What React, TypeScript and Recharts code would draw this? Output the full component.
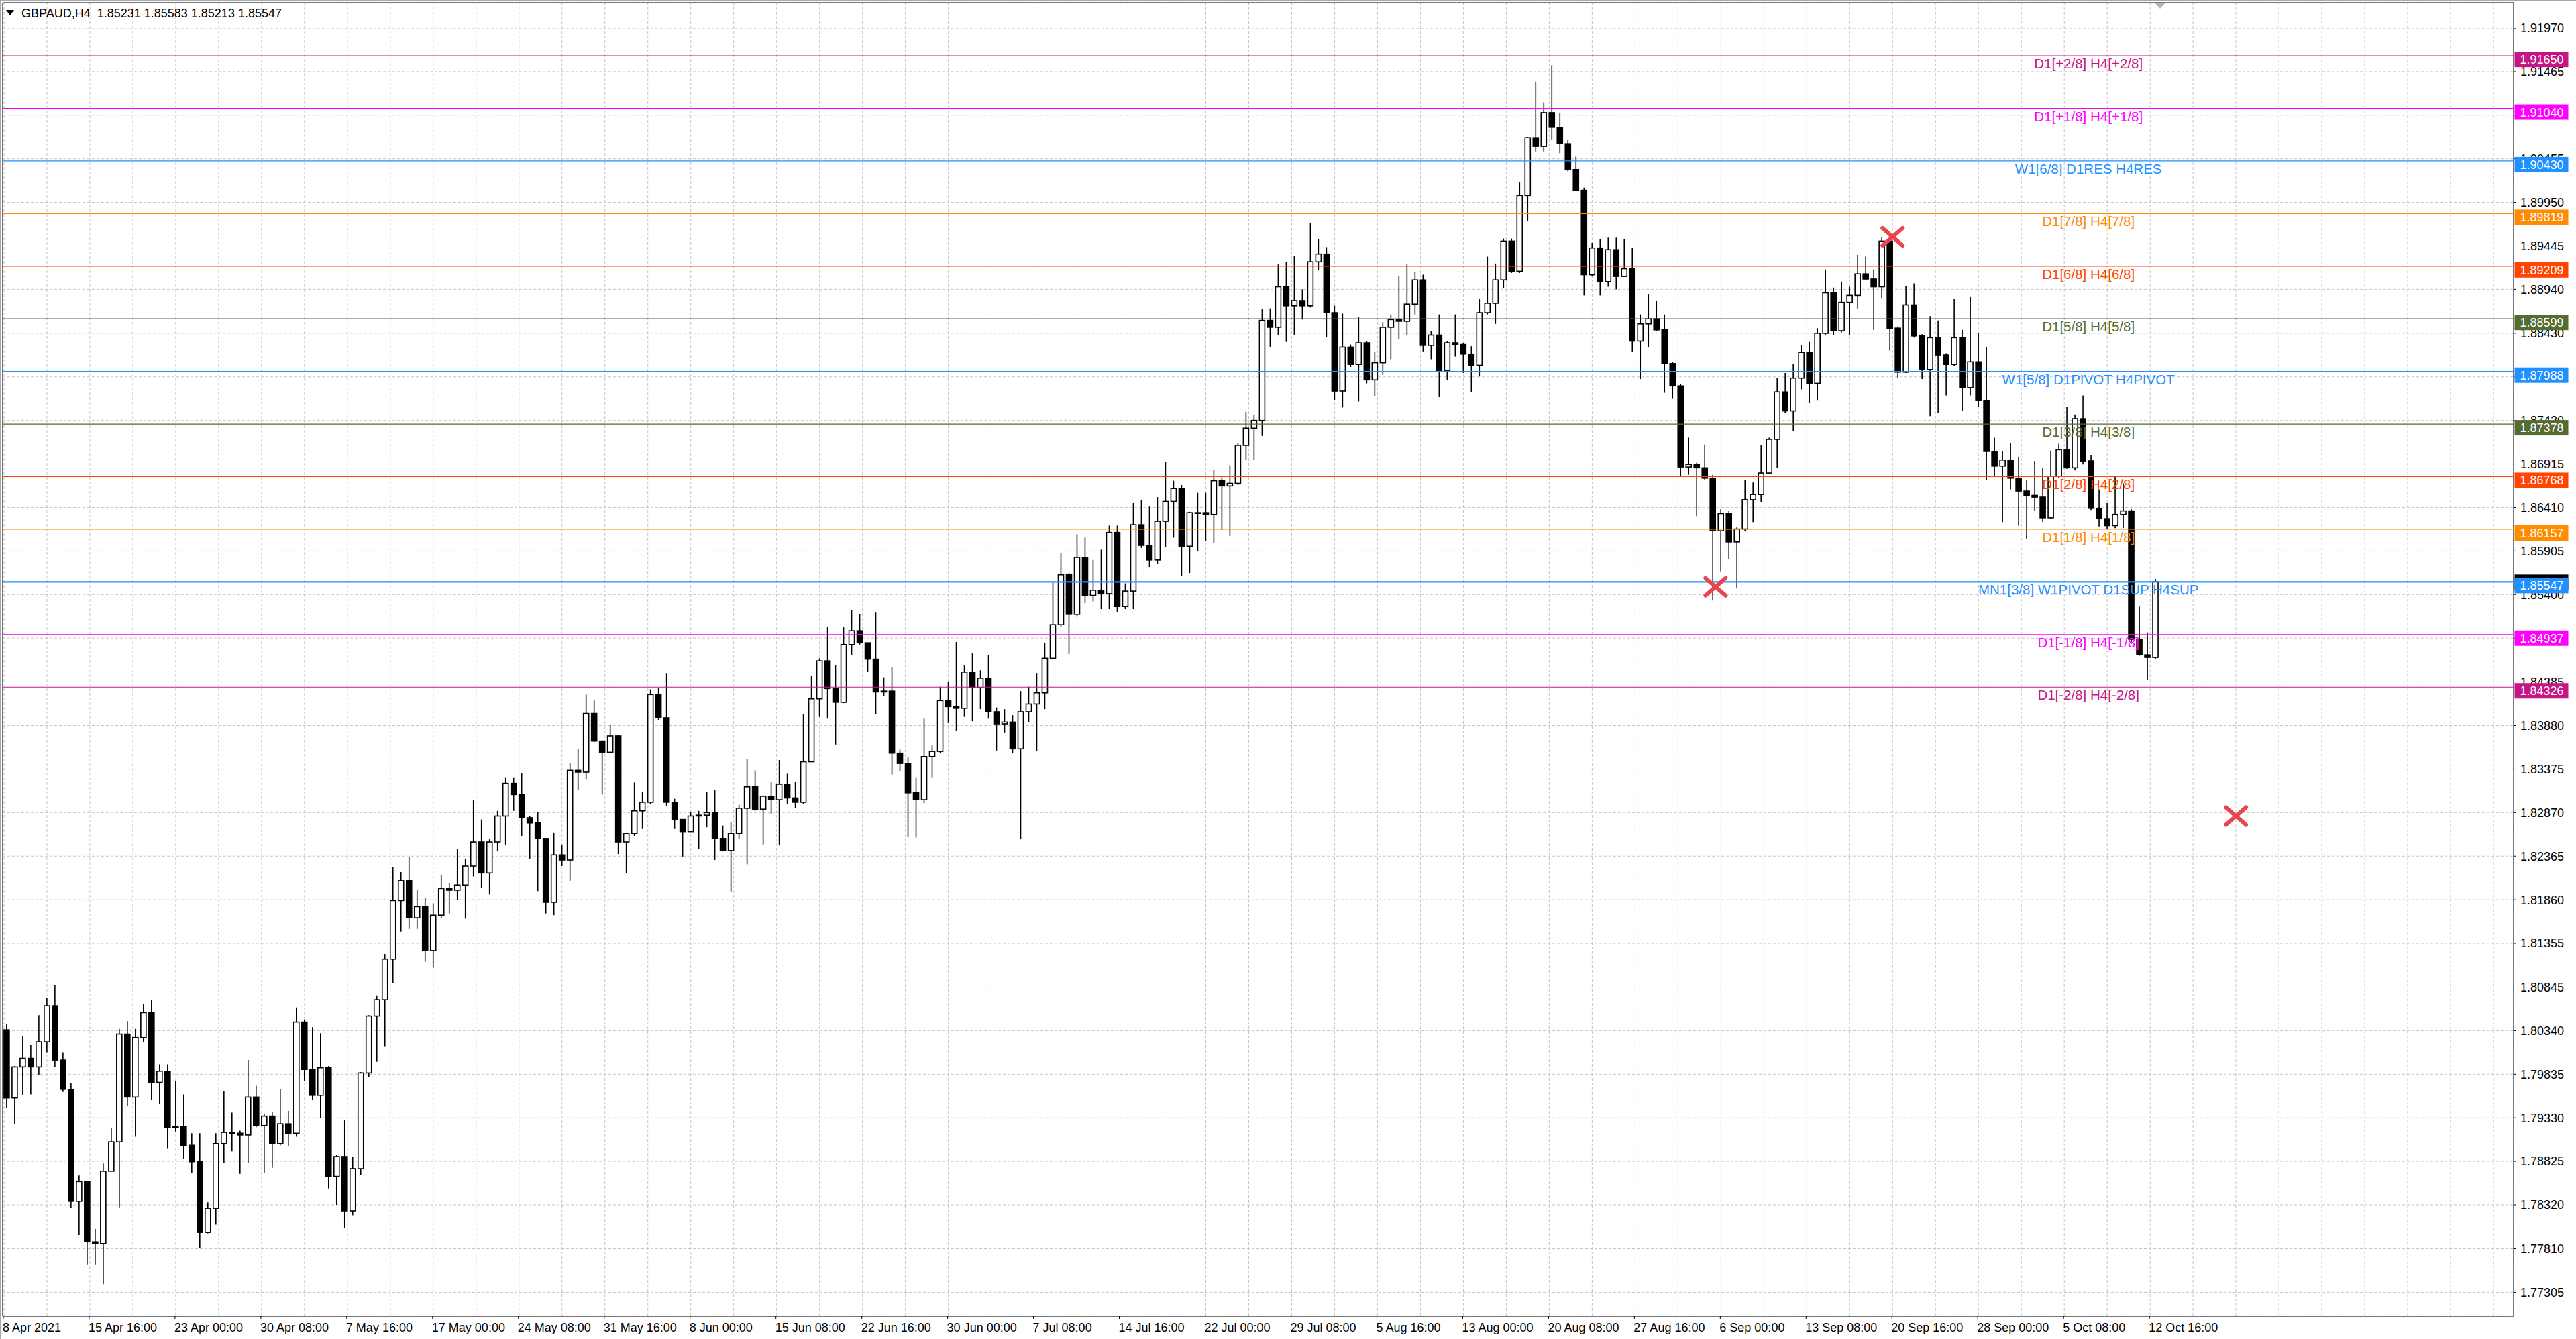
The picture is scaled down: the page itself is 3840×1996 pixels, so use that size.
import React from "react";
import {
  ComposedChart,
  Bar,
  XAxis,
  YAxis,
  CartesianGrid,
  ReferenceLine,
  ReferenceArea,
  ReferenceDot,
} from "recharts";

const FONT = '"Liberation Sans", Arial, sans-serif';

// GBPAUD H4, one candle per 3 H4 bars
const firstOpen = 1.8035;

const closes = [
  1.7956, 1.7992, 1.8002, 1.7992, 1.8021, 1.8063, 1.8000, 1.7966, 1.7836, 1.7859,
  1.7789, 1.7787, 1.7871, 1.7905, 1.8030, 1.7957, 1.8026, 1.8055, 1.7974, 1.7987,
  1.7922, 1.7923, 1.7901, 1.7882, 1.7800, 1.7828, 1.7903, 1.7916, 1.7915, 1.7913,
  1.7957, 1.7924, 1.7935, 1.7903, 1.7926, 1.7915, 1.8044, 1.7989, 1.7959, 1.7991,
  1.7865, 1.7888, 1.7825, 1.7874, 1.7985, 1.8051, 1.8070, 1.8117, 1.8185, 1.8208,
  1.8165, 1.8178, 1.8127, 1.8168, 1.8199, 1.8197, 1.8203, 1.8225, 1.8253, 1.8217,
  1.8253, 1.8283, 1.8321, 1.8308, 1.8281, 1.8275, 1.8257, 1.8183, 1.8238, 1.8232,
  1.8336, 1.8334, 1.8402, 1.8370, 1.8357, 1.8376, 1.8253, 1.8263, 1.8289, 1.8299,
  1.8424, 1.8397, 1.8299, 1.8279, 1.8265, 1.8283, 1.8284, 1.8287, 1.8257, 1.8243,
  1.8263, 1.8292, 1.8317, 1.8291, 1.8306, 1.8302, 1.8320, 1.8304, 1.8299, 1.8346,
  1.8419, 1.8463, 1.8431, 1.8415, 1.8482, 1.8498, 1.8484, 1.8465, 1.8427, 1.8428,
  1.8356, 1.8344, 1.8310, 1.8302, 1.8352, 1.8358, 1.8417, 1.8410, 1.8408, 1.8450,
  1.8432, 1.8443, 1.8404, 1.8390, 1.8392, 1.8361, 1.8404, 1.8413, 1.8426, 1.8466,
  1.8505, 1.8563, 1.8517, 1.8583, 1.8539, 1.8545, 1.8541, 1.8612, 1.8526, 1.8544,
  1.8621, 1.8597, 1.8580, 1.8625, 1.8648, 1.8663, 1.8596, 1.8635, 1.8635, 1.8633,
  1.8672, 1.8666, 1.8669, 1.8713, 1.8733, 1.8742, 1.8858, 1.8850, 1.8897, 1.8875,
  1.8881, 1.8875, 1.8926, 1.8935, 1.8867, 1.8776, 1.8827, 1.8807, 1.8832, 1.8789,
  1.8809, 1.8850, 1.8859, 1.8857, 1.8877, 1.8905, 1.8829, 1.8841, 1.8800, 1.8832,
  1.8830, 1.8819, 1.8806, 1.8867, 1.8878, 1.8905, 1.8950, 1.8915, 1.9003, 1.9070,
  1.9060, 1.9099, 1.9082, 1.9063, 1.9033, 1.9009, 1.8911, 1.8942, 1.8903, 1.8940,
  1.8909, 1.8918, 1.8834, 1.8854, 1.8860, 1.8847, 1.8808, 1.8782, 1.8688, 1.8691,
  1.8687, 1.8675, 1.8614, 1.8634, 1.8601, 1.8616, 1.8650, 1.8656, 1.8681, 1.8720,
  1.8775, 1.8753, 1.8791, 1.8821, 1.8785, 1.8843, 1.8890, 1.8846, 1.8879, 1.8887,
  1.8912, 1.8906, 1.8897, 1.8950, 1.8849, 1.8798, 1.8876, 1.8840, 1.8801, 1.8838,
  1.8818, 1.8807, 1.8838, 1.8780, 1.8810, 1.8765, 1.8706, 1.8689, 1.8696, 1.8675,
  1.8660, 1.8655, 1.8653, 1.8629, 1.8677, 1.8708, 1.8687, 1.8744, 1.8695, 1.8640,
  1.8628, 1.8620, 1.8633, 1.8637, 1.8488, 1.8470, 1.8467, 1.8555,
];

const highs = [
  1.8042, 1.7993, 1.8028, 1.8018, 1.8052, 1.8072, 1.8087, 1.8009, 1.7973, 1.7866,
  1.7859, 1.7804, 1.7880, 1.7921, 1.8036, 1.8045, 1.8036, 1.8065, 1.8070, 1.7995,
  1.7995, 1.7976, 1.7960, 1.7915, 1.7915, 1.7835, 1.7915, 1.7964, 1.7939, 1.7918,
  1.8000, 1.7970, 1.7938, 1.7940, 1.7966, 1.7941, 1.8061, 1.8047, 1.8038, 1.8031,
  1.7993, 1.7890, 1.7930, 1.7888, 1.7986, 1.8052, 1.8075, 1.8123, 1.8224, 1.8218,
  1.8236, 1.8197, 1.8188, 1.8182, 1.8215, 1.8205, 1.8245, 1.8233, 1.8302, 1.8279,
  1.8256, 1.8289, 1.8328, 1.8328, 1.8333, 1.8283, 1.8288, 1.8257, 1.8264, 1.8250,
  1.8344, 1.8361, 1.8424, 1.8417, 1.8371, 1.8389, 1.8377, 1.8264, 1.8322, 1.8311,
  1.8430, 1.8432, 1.8449, 1.8303, 1.8279, 1.8288, 1.8289, 1.8311, 1.8313, 1.8272,
  1.8276, 1.8296, 1.8349, 1.8336, 1.8307, 1.8323, 1.8348, 1.8332, 1.8323, 1.8401,
  1.8446, 1.8466, 1.8502, 1.8458, 1.8502, 1.8522, 1.8517, 1.8484, 1.8519, 1.8444,
  1.8456, 1.8360, 1.8351, 1.8328, 1.8396, 1.8365, 1.8433, 1.8439, 1.8485, 1.8458,
  1.8472, 1.8452, 1.8470, 1.8409, 1.8407, 1.8400, 1.8428, 1.8433, 1.8449, 1.8484,
  1.8554, 1.8588, 1.8565, 1.8610, 1.8606, 1.8580, 1.8592, 1.8620, 1.8620, 1.8553,
  1.8646, 1.8650, 1.8642, 1.8653, 1.8694, 1.8672, 1.8667, 1.8636, 1.8658, 1.8658,
  1.8685, 1.8676, 1.8690, 1.8716, 1.8752, 1.8749, 1.8871, 1.8872, 1.8923, 1.8926,
  1.8933, 1.8894, 1.8971, 1.8952, 1.8943, 1.8875, 1.8866, 1.8830, 1.8862, 1.8834,
  1.8821, 1.8856, 1.8865, 1.8910, 1.8923, 1.8914, 1.8911, 1.8846, 1.8865, 1.8834,
  1.8865, 1.8832, 1.8828, 1.8883, 1.8932, 1.8924, 1.8953, 1.8953, 1.9018, 1.9071,
  1.9135, 1.9111, 1.9154, 1.9099, 1.9067, 1.9048, 1.9012, 1.8948, 1.8952, 1.8954,
  1.8954, 1.8952, 1.8942, 1.8865, 1.8888, 1.8881, 1.8865, 1.8810, 1.8784, 1.8722,
  1.8693, 1.8714, 1.8679, 1.8639, 1.8637, 1.8618, 1.8673, 1.8670, 1.8713, 1.8722,
  1.8791, 1.8797, 1.8808, 1.8829, 1.8833, 1.8849, 1.8917, 1.8896, 1.8903, 1.8897,
  1.8934, 1.8932, 1.8917, 1.8955, 1.8961, 1.8851, 1.8898, 1.8901, 1.8842, 1.8863,
  1.8858, 1.8820, 1.8883, 1.8847, 1.8886, 1.8843, 1.8827, 1.8722, 1.8706, 1.8716,
  1.8700, 1.8673, 1.8695, 1.8687, 1.8707, 1.8715, 1.8758, 1.8749, 1.8771, 1.8702,
  1.8662, 1.8646, 1.8677, 1.8669, 1.8639, 1.8526, 1.8496, 1.8558,
];

const lows = [
  1.7944, 1.7926, 1.7959, 1.7960, 1.7983, 1.8009, 1.7992, 1.7963, 1.7828, 1.7797,
  1.7763, 1.7763, 1.7740, 1.7871, 1.7829, 1.7947, 1.7911, 1.8021, 1.7954, 1.7949,
  1.7897, 1.7917, 1.7885, 1.7869, 1.7782, 1.7799, 1.7809, 1.7881, 1.7894, 1.7868,
  1.7881, 1.7922, 1.7869, 1.7875, 1.7901, 1.7900, 1.7911, 1.7976, 1.7954, 1.7933,
  1.7851, 1.7832, 1.7805, 1.7820, 1.7867, 1.7980, 1.7998, 1.8016, 1.8089, 1.8149,
  1.8152, 1.8152, 1.8114, 1.8107, 1.8165, 1.8170, 1.8186, 1.8164, 1.8213, 1.8200,
  1.8192, 1.8242, 1.8250, 1.8289, 1.8260, 1.8233, 1.8196, 1.8170, 1.8168, 1.8225,
  1.8208, 1.8313, 1.8326, 1.8369, 1.8308, 1.8357, 1.8239, 1.8217, 1.8260, 1.8268,
  1.8297, 1.8394, 1.8295, 1.8268, 1.8236, 1.8265, 1.8245, 1.8270, 1.8232, 1.8242,
  1.8195, 1.8257, 1.8227, 1.8289, 1.8250, 1.8285, 1.8249, 1.8297, 1.8292, 1.8297,
  1.8346, 1.8398, 1.8396, 1.8366, 1.8414, 1.8470, 1.8482, 1.8450, 1.8401, 1.8422,
  1.8331, 1.8335, 1.8259, 1.8258, 1.8298, 1.8328, 1.8356, 1.8391, 1.8382, 1.8398,
  1.8393, 1.8407, 1.8396, 1.8359, 1.8380, 1.8356, 1.8256, 1.8392, 1.8358, 1.8407,
  1.8465, 1.8503, 1.8471, 1.8515, 1.8530, 1.8532, 1.8523, 1.8523, 1.8520, 1.8523,
  1.8523, 1.8594, 1.8572, 1.8576, 1.8595, 1.8606, 1.8562, 1.8565, 1.8590, 1.8602,
  1.8600, 1.8615, 1.8608, 1.8667, 1.8696, 1.8696, 1.8724, 1.8827, 1.8841, 1.8833,
  1.8841, 1.8859, 1.8873, 1.8916, 1.8839, 1.8765, 1.8757, 1.8804, 1.8764, 1.8785,
  1.8770, 1.8795, 1.8813, 1.8836, 1.8841, 1.8865, 1.8822, 1.8813, 1.8769, 1.8789,
  1.8816, 1.8797, 1.8775, 1.8793, 1.8865, 1.8854, 1.8895, 1.8913, 1.8913, 1.8973,
  1.9054, 1.9054, 1.9068, 1.9052, 1.9031, 1.9008, 1.8887, 1.8909, 1.8887, 1.8897,
  1.8894, 1.8909, 1.8822, 1.8790, 1.8827, 1.8846, 1.8774, 1.8767, 1.8677, 1.8679,
  1.8631, 1.8673, 1.8533, 1.8567, 1.8581, 1.8547, 1.8614, 1.8624, 1.8647, 1.8680,
  1.8687, 1.8751, 1.8730, 1.8778, 1.8762, 1.8765, 1.8841, 1.8841, 1.8844, 1.8841,
  1.8872, 1.8905, 1.8847, 1.8884, 1.8823, 1.8791, 1.8797, 1.8838, 1.8790, 1.8747,
  1.8751, 1.8771, 1.8805, 1.8753, 1.8771, 1.8758, 1.8673, 1.8678, 1.8624, 1.8662,
  1.8620, 1.8604, 1.8637, 1.8624, 1.8628, 1.8675, 1.8686, 1.8684, 1.8691, 1.8638,
  1.8619, 1.8616, 1.8617, 1.8617, 1.8483, 1.8469, 1.8441, 1.8465,
];

const dateLabels = [
  "8 Apr 2021", "15 Apr 16:00", "23 Apr 00:00", "30 Apr 08:00", "7 May 16:00",
  "17 May 00:00", "24 May 08:00", "31 May 16:00", "8 Jun 00:00", "15 Jun 08:00",
  "22 Jun 16:00", "30 Jun 00:00", "7 Jul 08:00", "14 Jul 16:00", "22 Jul 00:00",
  "29 Jul 08:00", "5 Aug 16:00", "13 Aug 00:00", "20 Aug 08:00", "27 Aug 16:00",
  "6 Sep 00:00", "13 Sep 08:00", "20 Sep 16:00", "28 Sep 00:00", "5 Oct 08:00",
  "12 Oct 16:00",
];

const priceTicks = [
  1.9197, 1.91465, 1.9096, 1.90455, 1.8995, 1.89445, 1.8894, 1.8843, 1.87925, 1.8742,
  1.86915, 1.8641, 1.85905, 1.854, 1.84895, 1.84385, 1.8388, 1.83375, 1.8287, 1.82365,
  1.8186, 1.81355, 1.80845, 1.8034, 1.79835, 1.7933, 1.78825, 1.7832, 1.7781, 1.77305,
];

const levelPrices = [
  1.9165, 1.9104, 1.9043, 1.89819, 1.89209, 1.88599, 1.87988, 1.87378, 1.86768,
  1.86157, 1.85547, 1.84937, 1.84326,
];
const levelNames = [
  "D1[+2/8] H4[+2/8]", "D1[+1/8] H4[+1/8]", "W1[6/8] D1RES H4RES", "D1[7/8] H4[7/8]",
  "D1[6/8] H4[6/8]", "D1[5/8] H4[5/8]", "W1[5/8] D1PIVOT H4PIVOT", "D1[3/8] H4[3/8]",
  "D1[2/8] H4[2/8]", "D1[1/8] H4[1/8]", "MN1[3/8] W1PIVOT D1SUP H4SUP",
  "D1[-1/8] H4[-1/8]", "D1[-2/8] H4[-2/8]",
];
const levelColors = [
  "#C71585", "#FF00FF", "#1E90FF", "#FF8C00", "#FF4500", "#556B2F", "#1E90FF",
  "#556B2F", "#FF4500", "#FF8C00", "#1E90FF", "#FF00FF", "#C71585",
];

const markerSlots = [638, 704, 832];
const markerPrices = [1.8549, 1.8955, 1.8283];

const BID = 1.85547;
const BARS_PER_CANDLE = 3;
const SLOTS = 936; // H4 bars across the screen, incl. the empty shift on the right
const LABEL_SLOT = 777;
const Y_MIN = 1.77028;
const Y_MAX = 1.92266;
const AXIS_W = 92;

const xTicks = Array.from({ length: 59 }, (_, k) => k * 16);

const table: any[] = Array.from({ length: SLOTS }, (_, slot) => ({ slot }));
closes.forEach((close, i) => {
  const open = i === 0 ? firstOpen : closes[i - 1];
  const slot = i * BARS_PER_CANDLE + 1;
  table[slot] = {
    slot,
    open,
    close,
    wick: [lows[i], highs[i]],
    body: [Math.min(open, close), Math.max(open, close)],
  };
});

const Wick = (p: any) => {
  if (!p.payload || p.payload.open == null || !Number.isFinite(p.y)) return <g />;
  const cx = p.x + p.width / 2;
  return <line x1={cx} x2={cx} y1={p.y} y2={p.y + p.height} stroke="#000" strokeWidth={1.6} />;
};

const Body = (p: any) => {
  if (!p.payload || p.payload.open == null || !Number.isFinite(p.y)) return <g />;
  const cx = p.x + p.width / 2;
  const top = Math.min(p.y, p.y + p.height);
  const h = Math.max(Math.abs(p.height), 1);
  const up = p.payload.close >= p.payload.open;
  return (
    <rect x={cx - 4} y={top} width={8} height={h} fill={up ? "#fff" : "#000"} stroke="#000" strokeWidth={1.6} />
  );
};

const DateTick = (p: any) => {
  const i = p.payload.value / 32;
  if (!Number.isInteger(i) || i >= dateLabels.length) return <g />;
  return (
    <g>
      <line x1={p.x - 1} x2={p.x - 1} y1={p.y} y2={p.y + 4} stroke="#000" />
      <text x={p.x - 2} y={p.y + 23} fontSize={18} fontFamily={FONT} fill="#000">
        {dateLabels[i]}
      </text>
    </g>
  );
};

// coloured price boxes on the right scale; drawn by a second thin axis so they sit over the tick labels
const PriceTag = (p: any) => {
  const price = p.payload.value;
  const i = levelPrices.indexOf(price);
  if (i < 0) return <g />;
  const x = p.x - AXIS_W + 1.5;
  const y = p.y;
  return (
    <g>
      {price === BID && <rect x={x} y={y - 11} width={80} height={23} fill="#000" />}
      <rect x={x} y={y - 6} width={80} height={23} fill={levelColors[i]} />
      <text x={x + 8} y={y + 12} fill="#fff" fontSize={18} fontFamily={FONT}>
        {price.toFixed(5)}
      </text>
    </g>
  );
};

const Cross = (p: any) => (
  <g stroke="#E8454F" strokeWidth={6} strokeLinecap="round">
    <line x1={p.cx - 15} y1={p.cy - 13} x2={p.cx + 15} y2={p.cy + 13} />
    <line x1={p.cx - 15} y1={p.cy + 13} x2={p.cx + 15} y2={p.cy - 13} />
  </g>
);

export default function App() {
  return (
    <div style={{ position: "fixed", left: 0, top: 0, width: 3840, height: 1996, background: "#fff", overflow: "hidden" }}>
      <ComposedChart width={3840} height={1996} data={table} margin={{ top: 4, right: 0, left: 4, bottom: 0 }}>
        <CartesianGrid stroke="#c4c4c4" strokeDasharray="4 3" />
        <XAxis
          dataKey="slot"
          ticks={xTicks}
          interval={0}
          height={34}
          axisLine={false}
          tickLine={false}
          tickSize={0}
          tickMargin={0}
          tick={<DateTick />}
        />
        <XAxis xAxisId="body" dataKey="slot" hide />
        <YAxis
          orientation="right"
          type="number"
          domain={[Y_MIN, Y_MAX]}
          allowDataOverflow
          ticks={priceTicks}
          interval={0}
          width={AXIS_W}
          axisLine={false}
          tickLine={{ stroke: "#000" }}
          tickSize={4}
          tickMargin={6}
          tick={{ fontSize: 18, fill: "#000", fontFamily: FONT }}
          tickFormatter={(v: number) => v.toFixed(5)}
        />
        <YAxis
          yAxisId="tags"
          orientation="right"
          type="number"
          domain={[Y_MIN, Y_MAX]}
          allowDataOverflow
          ticks={levelPrices}
          interval={0}
          width={1}
          axisLine={false}
          tickLine={false}
          tickSize={0}
          tickMargin={0}
          tick={<PriceTag />}
        />
        <ReferenceArea y1={Y_MIN} y2={Y_MAX} fill="none" stroke="#000" strokeWidth={1} ifOverflow="visible" />
        {levelPrices.map((price, i) => (
          <ReferenceLine
            key={"l" + i}
            y={price}
            stroke={levelColors[i]}
            strokeWidth={price === BID ? 2.2 : 1.2}
            ifOverflow="visible"
          />
        ))}
        {levelPrices.map((price, i) => (
          <ReferenceDot
            key={"t" + i}
            x={LABEL_SLOT}
            y={price}
            ifOverflow="visible"
            shape={(p: any) => (
              <text x={p.cx} y={p.cy + 19} textAnchor="middle" fontSize={20.5} fontFamily={FONT} fill={levelColors[i]}>
                {levelNames[i]}
              </text>
            )}
          />
        ))}
        <Bar dataKey="wick" shape={Wick} isAnimationActive={false} />
        <Bar dataKey="body" xAxisId="body" shape={Body} isAnimationActive={false} />
        {markerSlots.map((slot, i) => (
          <ReferenceDot key={"m" + i} x={slot} y={markerPrices[i]} ifOverflow="visible" shape={Cross} />
        ))}
      </ComposedChart>
      <svg style={{ position: "absolute", left: 9, top: 15 }} width={12} height={8}>
        <polygon points="0,0 12,0 6,8" fill="#000" />
      </svg>
      <div style={{ position: "absolute", left: 32, top: 11, fontSize: 18, lineHeight: "18px", fontFamily: FONT, whiteSpace: "pre", color: "#000" }}>
        GBPAUD,H4  1.85231 1.85583 1.85213 1.85547
      </div>
      <svg style={{ position: "absolute", left: 3212, top: 4 }} width={16} height={9}>
        <polygon points="0,0 16,0 8,9" fill="#b4b4b4" />
      </svg>
      <div style={{ position: "absolute", left: 0, top: 0, width: 3840, height: 2, background: "#a8a8a8" }} />
      <div style={{ position: "absolute", left: 0, top: 0, width: 2, height: 1996, background: "#a8a8a8" }} />
    </div>
  );
}
